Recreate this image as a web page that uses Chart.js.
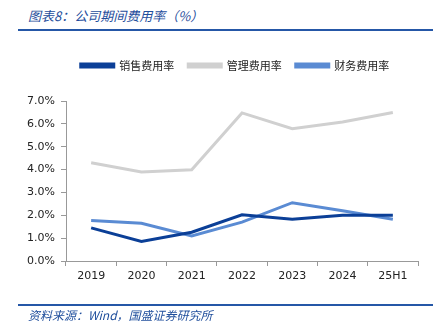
<!DOCTYPE html>
<html>
<head>
<meta charset="utf-8">
<script src="https://cdn.jsdelivr.net/npm/chart.js@4.4.0/dist/chart.umd.min.js"></script>
<style>
    html, body { margin: 0; padding: 0; background: #fff; }
    body { width: 442px; height: 335px; position: relative; overflow: hidden; }
    .title { position: absolute; left: 28px; top: 6px; font: italic 13px "Noto Sans CJK SC", sans-serif; color: #1f4e9c; white-space: nowrap; }
    .rule { position: absolute; left: 18px; width: 415px; background: #2557a7; }
    .source { position: absolute; left: 28px; top: 306px; font: italic 12px "Noto Sans CJK SC", sans-serif; color: #1f4e9c; white-space: nowrap; }
    #expenseChart { position: absolute; left: 0; top: 0; }
</style>
</head>
<body>
<div class="title">图表8：公司期间费用率（%）</div>
<div class="rule" style="top:29px;height:2px;"></div>
<canvas id="expenseChart" width="442" height="335"></canvas>
<div class="rule" style="top:304px;height:2px;"></div>
<div class="source">资料来源：Wind，国盛证券研究所</div>
<script>
const years = ['2019', '2020', '2021', '2022', '2023', '2024', '25H1'];
const salesRate = [1.45, 0.85, 1.26, 2.02, 1.83, 2.0, 2.0];
const adminRate = [4.3, 3.89, 3.99, 6.48, 5.79, 6.08, 6.5];
const financeRate = [1.77, 1.65, 1.1, 1.7, 2.55, 2.2, 1.83];

const series = [
    { label: '销售费用率', data: salesRate, color: '#0b3f97' },
    { label: '管理费用率', data: adminRate, color: '#d0d0d0' },
    { label: '财务费用率', data: financeRate, color: '#5a8bd3' }
];

// legend sits a bit right of centre and has extra room below it
const legendTweak = {
    id: 'legendTweak',
    afterInit(chart) {
        const fit = chart.legend.fit;
        chart.legend.fit = function () {
            fit.call(this);
            this.height += 20;
        };
    },
    afterLayout(chart) {
        chart.legend.left += 26;
        chart.legend.right += 26;
    }
};

new Chart(document.getElementById('expenseChart').getContext('2d'), {
    type: 'line',
    data: {
        labels: years,
        datasets: series.map(s => ({
            label: s.label,
            data: s.data,
            borderColor: s.color,
            backgroundColor: s.color,
            borderWidth: 3,
            pointRadius: 0,
            tension: 0
        }))
    },
    options: {
        responsive: false,
        animation: { duration: 0 },
        layout: { padding: { top: 46, left: 0, right: 24, bottom: 50 } },
        plugins: {
            tooltip: { enabled: false },
            legend: {
                labels: {
                    boxWidth: 33,
                    boxHeight: 3,
                    padding: 14,
                    color: '#222',
                    font: { family: '"Noto Sans CJK SC"', size: 11 }
                }
            }
        },
        scales: {
            x: {
                offset: true,
                grid: { display: true, drawOnChartArea: false, offset: true, tickLength: 5, color: '#999' },
                border: { display: true, color: '#999' },
                ticks: { color: '#222', font: { family: 'DejaVu Sans', size: 11 }, padding: 4, maxRotation: 0 },
                afterFit: axis => { axis.height = 24; }
            },
            y: {
                min: 0,
                max: 7,
                ticks: {
                    stepSize: 1,
                    color: '#222',
                    font: { family: 'DejaVu Sans', size: 11 },
                    padding: 6,
                    callback: v => v.toFixed(1) + '%'
                },
                grid: { display: true, drawOnChartArea: false, tickLength: 5, color: '#999' },
                border: { display: true, color: '#999' },
                afterFit: axis => { axis.width = 66; }
            }
        }
    },
    plugins: [legendTweak]
});
</script>
</body>
</html>
